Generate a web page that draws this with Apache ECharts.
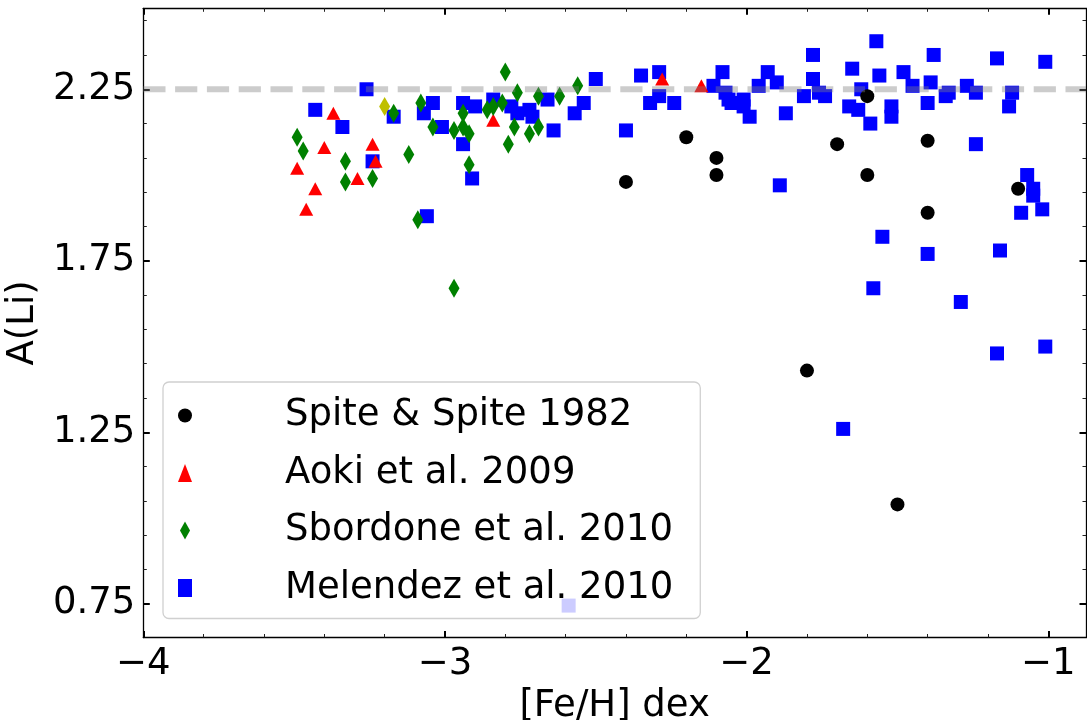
<!DOCTYPE html>
<html>
<head>
<meta charset="utf-8">
<script src="https://cdn.jsdelivr.net/npm/echarts@6/dist/echarts.min.js"></script>
<style>
  html, body { margin: 0; padding: 0; background: #ffffff; }
  #chart { width: 1087px; height: 720px; }
</style>
</head>
<body>
<div id="chart"></div>
<script>
// Lithium abundance A(Li) against metallicity [Fe/H] for metal-poor dwarfs

const spite1982 = [
  [-2.40, 1.98], [-2.20, 2.11], [-2.10, 2.05], [-2.10, 2.00], [-1.70, 2.09],
  [-1.60, 2.23], [-1.60, 2.00], [-1.40, 2.10], [-1.40, 1.89], [-1.10, 1.96],
  [-1.80, 1.43], [-1.50, 1.04]
];

const aoki2009 = [
  [-3.49, 2.02], [-3.46, 1.90], [-3.43, 1.96], [-3.40, 2.08], [-3.37, 2.18],
  [-3.29, 1.99], [-3.24, 2.09], [-3.23, 2.04], [-2.84, 2.16], [-2.28, 2.28],
  [-2.15, 2.26]
];

const sbordone2010 = [
  [-3.49, 2.11], [-3.47, 2.07], [-3.33, 2.04], [-3.33, 1.98], [-3.24, 1.99],
  [-3.17, 2.18], [-3.12, 2.06], [-3.09, 1.87], [-3.08, 2.21], [-3.04, 2.14],
  [-2.97, 2.13], [-2.97, 1.67], [-2.94, 2.18], [-2.94, 2.14], [-2.92, 2.12],
  [-2.92, 2.03], [-2.86, 2.19], [-2.84, 2.20], [-2.81, 2.21], [-2.80, 2.30],
  [-2.79, 2.09], [-2.77, 2.14], [-2.76, 2.24], [-2.72, 2.12], [-2.69, 2.23],
  [-2.69, 2.14], [-2.62, 2.23], [-2.56, 2.26]
];

// single Sbordone star plotted in a different colour
const sbordoneFlagged = [[-3.20, 2.20]];

const melendez2010 = [
  [-3.43, 2.19], [-3.34, 2.14], [-3.26, 2.25], [-3.24, 2.04], [-3.17, 2.17],
  [-3.07, 2.18], [-3.04, 2.21], [-3.06, 1.88], [-3.01, 2.14], [-2.94, 2.21],
  [-2.94, 2.09], [-2.90, 2.20], [-2.91, 1.99], [-2.84, 2.22], [-2.78, 2.20],
  [-2.76, 2.18], [-2.72, 2.19], [-2.71, 2.17], [-2.66, 2.22], [-2.64, 2.13],
  [-2.57, 2.18], [-2.54, 2.21], [-2.50, 2.28], [-2.40, 2.13], [-2.35, 2.29],
  [-2.32, 2.21], [-2.29, 2.30], [-2.29, 2.23], [-2.24, 2.21], [-2.11, 2.26],
  [-2.08, 2.30], [-2.07, 2.24], [-2.06, 2.22], [-2.05, 2.21], [-2.01, 2.22],
  [-2.01, 2.20], [-1.99, 2.17], [-1.96, 2.26], [-1.93, 2.30], [-1.90, 2.27],
  [-1.87, 2.18], [-1.89, 1.97], [-1.81, 2.23], [-1.78, 2.35], [-1.78, 2.28],
  [-1.76, 2.24], [-1.74, 2.23], [-1.66, 2.20], [-1.65, 2.31], [-1.63, 2.19],
  [-1.62, 2.25], [-1.59, 2.15], [-1.57, 2.39], [-1.56, 2.29], [-1.52, 2.20],
  [-1.52, 2.17], [-1.55, 1.82], [-1.48, 2.30], [-1.45, 2.26], [-1.38, 2.35],
  [-1.39, 2.27], [-1.40, 2.21], [-1.34, 2.23], [-1.33, 2.24], [-1.27, 2.26],
  [-1.24, 2.24], [-1.17, 2.34], [-1.12, 2.24], [-1.13, 2.20], [-1.01, 2.33],
  [-1.24, 2.09], [-1.07, 2.00], [-1.05, 1.96], [-1.05, 1.94], [-1.09, 1.89],
  [-1.02, 1.90], [-1.40, 1.77], [-1.16, 1.78], [-1.58, 1.67], [-1.29, 1.63],
  [-1.17, 1.48], [-1.01, 1.50], [-1.68, 1.26], [-2.59, 0.745]
];

// Spite plateau level
const plateauLevel = 2.25;

// axis limits and tick positions
const xLimits = [-4.0, -0.875];
const yLimits = [0.652, 2.486];
const xMajorTicks = [-4, -3, -2, -1];
const xMinorTicks = [-3.8, -3.6, -3.4, -3.2, -2.8, -2.6, -2.4, -2.2,
                     -1.8, -1.6, -1.4, -1.2];
const yMajorTicks = [0.75, 1.25, 1.75, 2.25];
const yMinorTicks = [0.85, 0.95, 1.05, 1.15, 1.35, 1.45, 1.55, 1.65,
                     1.85, 1.95, 2.05, 2.15, 2.35, 2.45];

const seriesNames = ['Spite & Spite 1982', 'Aoki et al. 2009',
                     'Sbordone et al. 2010', 'Melendez et al. 2010'];

const FONT = 'DejaVu Sans';
const LABEL_SIZE = 37;
const thinDiamond = 'path://M5,0L10,9L5,18L0,9Z';

const minus = v => String(v).replace('-', '\u2212');

function majorAxis(extra) {
  return Object.assign({
    type: 'value',
    axisLine: { show: true, onZero: false, lineStyle: { color: '#000', width: 1.3 } },
    splitLine: { show: false },
    axisTick: { show: true, inside: true, length: 6.5, lineStyle: { color: '#000', width: 2 } },
    axisLabel: { show: false }
  }, extra);
}
function minorAxis(extra) {
  return Object.assign({
    type: 'value',
    axisLine: { show: false, onZero: false },
    splitLine: { show: false },
    axisTick: { show: true, inside: true, length: 3.5, lineStyle: { color: '#222', width: 1 } },
    axisLabel: { show: false }
  }, extra);
}

const xAxes = [
  majorAxis({
    position: 'bottom', min: xLimits[0], max: xLimits[1],
    name: '[Fe/H] dex', nameLocation: 'middle', nameGap: 40,
    nameTextStyle: { fontFamily: FONT, fontSize: LABEL_SIZE, color: '#000' },
    axisTick: { show: true, inside: true, length: 6.5, customValues: xMajorTicks,
                lineStyle: { color: '#000', width: 2 } },
    axisLabel: { show: true, customValues: xMajorTicks, margin: 8,
                 fontFamily: FONT, fontSize: LABEL_SIZE, color: '#000',
                 formatter: v => minus(v) }
  }),
  minorAxis({ position: 'bottom', min: xLimits[0], max: xLimits[1],
    axisTick: { show: true, inside: true, length: 3.5, customValues: xMinorTicks,
                lineStyle: { color: '#222', width: 1 } } }),
  majorAxis({ position: 'top', min: xLimits[0], max: xLimits[1],
    axisTick: { show: true, inside: true, length: 6.5, customValues: xMajorTicks,
                lineStyle: { color: '#000', width: 2 } } }),
  minorAxis({ position: 'top', min: xLimits[0], max: xLimits[1],
    axisTick: { show: true, inside: true, length: 3.5, customValues: xMinorTicks,
                lineStyle: { color: '#222', width: 1 } } })
];

const yAxes = [
  majorAxis({
    position: 'left', min: yLimits[0], max: yLimits[1],
    name: 'A(Li)', nameLocation: 'middle', nameGap: 84, nameRotate: 90,
    nameTextStyle: { fontFamily: FONT, fontSize: LABEL_SIZE, color: '#000' },
    axisTick: { show: true, inside: true, length: 6.5, customValues: yMajorTicks,
                lineStyle: { color: '#000', width: 2 } },
    axisLabel: { show: true, customValues: yMajorTicks, margin: 8,
                 fontFamily: FONT, fontSize: LABEL_SIZE, color: '#000',
                 formatter: v => Number(v).toFixed(2) }
  }),
  minorAxis({ position: 'left', min: yLimits[0], max: yLimits[1],
    axisTick: { show: true, inside: true, length: 3.5, customValues: yMinorTicks,
                lineStyle: { color: '#222', width: 1 } } }),
  majorAxis({ position: 'right', min: yLimits[0], max: yLimits[1],
    axisTick: { show: true, inside: true, length: 6.5, customValues: yMajorTicks,
                lineStyle: { color: '#000', width: 2 } } }),
  minorAxis({ position: 'right', min: yLimits[0], max: yLimits[1],
    axisTick: { show: true, inside: true, length: 3.5, customValues: yMinorTicks,
                lineStyle: { color: '#222', width: 1 } } })
];

const chart = echarts.init(document.getElementById('chart'), null, { renderer: 'canvas' });

chart.setOption({
  animation: false,
  backgroundColor: '#ffffff',
  grid: { left: 143.3, right: 1, top: 8.3, bottom: 82.5,
          containLabel: false, outerBoundsMode: 'none' },
  xAxis: xAxes,
  yAxis: yAxes,
  legend: {
    orient: 'vertical',
    left: 163, top: 382,
    z: 20,
    padding: [15, 27, 12, 15],
    itemGap: 20.5,
    itemWidth: 14, itemHeight: 18,
    symbolKeepAspect: true,
    backgroundColor: 'rgba(255,255,255,0.8)',
    borderColor: '#d0d0d0', borderWidth: 1.3, borderRadius: 6,
    formatter: name => '{t|' + name + '}',
    textStyle: {
      fontFamily: FONT, fontSize: LABEL_SIZE, color: '#000',
      rich: { t: { fontFamily: FONT, fontSize: LABEL_SIZE, color: '#000',
                   lineHeight: 40, padding: [0, 0, 0, 88] } }
    },
    data: [
      { name: seriesNames[0], icon: 'circle' },
      { name: seriesNames[1], icon: 'triangle' },
      { name: seriesNames[2], icon: thinDiamond },
      { name: seriesNames[3], icon: 'rect' }
    ]
  },
  series: [
    {
      name: seriesNames[3], type: 'scatter', data: melendez2010,
      symbol: 'rect', symbolSize: 14,
      itemStyle: { color: '#0000ff', opacity: 1 }, z: 2
    },
    {
      name: seriesNames[0], type: 'scatter', data: spite1982,
      symbol: 'circle', symbolSize: 14,
      itemStyle: { color: '#000000', opacity: 1 }, z: 3
    },
    {
      name: seriesNames[1], type: 'scatter', data: aoki2009,
      symbol: 'triangle', symbolSize: [14, 13],
      itemStyle: { color: '#ff0000', opacity: 1 }, z: 3
    },
    {
      name: seriesNames[2], type: 'scatter', data: sbordone2010,
      symbol: 'diamond', symbolSize: [11, 19],
      itemStyle: { color: '#008000', opacity: 1 }, z: 3
    },
    {
      name: 'Sbordone flagged', type: 'scatter', data: sbordoneFlagged,
      symbol: 'diamond', symbolSize: [11, 19],
      itemStyle: { color: '#bfbf00', opacity: 1 }, z: 3
    },
    {
      name: 'plateau', type: 'line',
      data: [[xLimits[0], plateauLevel], [xLimits[1], plateauLevel]],
      symbol: 'none', silent: true, z: 5,
      lineStyle: { color: 'rgba(128,128,128,0.4)', width: 6, type: [22.2, 9.6], cap: 'butt' }
    }
  ]
});
</script>
</body>
</html>
